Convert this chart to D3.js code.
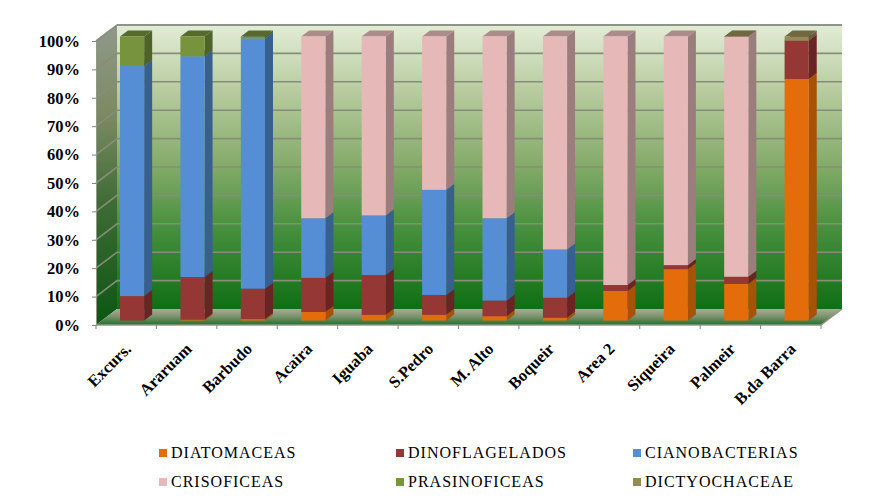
<!DOCTYPE html>
<html>
<head>
<meta charset="utf-8">
<script src="https://cdn.jsdelivr.net/npm/d3@7/dist/d3.min.js"></script>
<style>
html, body { margin: 0; padding: 0; background: #fff; }
svg { display: block; }
text { font-family: "Liberation Serif", serif; fill: #000; }
</style>
</head>
<body>
<script>
var categories = ['Excurs.', 'Araruam', 'Barbudo', 'Acaira', 'Iguaba', 'S.Pedro', 'M. Alto', 'Boqueir', 'Area 2', 'Siqueira', 'Palmeir', 'B.da Barra'];
var seriesNames = ['DIATOMACEAS', 'DINOFLAGELADOS', 'CIANOBACTERIAS', 'CRISOFICEAS', 'PRASINOFICEAS', 'DICTYOCHACEAE'];

var diatomaceas    = [0, 0.3, 0.5, 3, 2, 2, 1.5, 1, 10.4, 18.1, 12.9, 85];
var dinoflagelados = [8.6, 15, 10.7, 12, 14, 7, 5.5, 7, 2.1, 1.4, 2.5, 13.6];
var cianobacterias = [81, 77.7, 88.1, 21, 21, 37, 29, 17, 0, 0, 0, 0];
var crisoficeas    = [0, 0, 0, 64, 63, 54, 64, 75, 87.5, 80.5, 84.5, 0];
var prasinoficeas  = [10.4, 7, 0.7, 0, 0, 0, 0, 0, 0, 0, 0, 0];
var dictyochaceae  = [0, 0, 0, 0, 0, 0, 0, 0, 0, 0, 0.1, 1.4];

var frontColors = ['#e46c0a', '#953735', '#558ed5', '#e6b9b8', '#77933c', '#948a54'];
var sideColors  = ['#a65207', '#682524', '#37608f', '#9c7d7d', '#4f6228', '#665f3a'];
var topColors   = ['#b05808', '#742b2a', '#3f6ca3', '#ab8c8b', '#566b2b', '#6f6840'];

var width = 883, height = 498;
var left = 96, right = 821, bottom = 325, plotH = 284;
var depthX = 21, depthY = 16;      // shift from front plane to back wall
var barD0 = 0.28, barD1 = 0.66;    // bar front / back as a fraction of the depth

var svg = d3.select('body').append('svg')
    .attr('width', width)
    .attr('height', height);

var defs = svg.append('defs');

function gradient(id, stops) {
    var g = defs.append('linearGradient')
        .attr('id', id)
        .attr('x1', 0).attr('y1', 0).attr('x2', 0).attr('y2', 1);
    stops.forEach(function(s) {
        g.append('stop').attr('offset', s[0]).attr('stop-color', s[1]);
    });
}

gradient('wall', [[0, '#e3ecd6'], [0.25, '#b4c99b'], [0.5, '#83aa68'], [0.72, '#468f3c'], [1, '#0f6f14']]);
gradient('leftWall', [[0, '#90998a'], [0.3, '#7c8a62'], [0.6, '#3d6b34'], [1, '#0c5612']]);
gradient('floor', [[0, '#a9ab92'], [0.45, '#7f9470'], [1, '#21702a']]);

var x = d3.scaleBand()
    .domain(categories)
    .range([left, right])
    .paddingInner(0.6)
    .paddingOuter(0.3);

var y = d3.scaleLinear()
    .domain([0, 100])
    .range([bottom, bottom - plotH]);

var ticks = d3.range(0, 101, 10);

function pts(p) {
    return p.map(function(d) { return d.join(','); }).join(' ');
}

// walls and floor
svg.append('polygon')
    .attr('points', pts([[left + depthX, y(100) - depthY], [right + depthX, y(100) - depthY], [right + depthX, y(0) - depthY], [left + depthX, y(0) - depthY]]))
    .attr('fill', 'url(#wall)');
svg.append('polygon')
    .attr('points', pts([[left, y(100)], [left + depthX, y(100) - depthY], [left + depthX, y(0) - depthY], [left, y(0)]]))
    .attr('fill', 'url(#leftWall)');
svg.append('polygon')
    .attr('points', pts([[left, y(0)], [left + depthX, y(0) - depthY], [right + depthX, y(0) - depthY], [right, y(0)]]))
    .attr('fill', 'url(#floor)');

// gridlines, back wall + left wall
var grid = svg.append('g').attr('fill', 'none').attr('stroke', '#868e78').attr('stroke-width', 1.6);
grid.selectAll('path')
    .data(ticks)
    .enter()
    .append('path')
    .attr('d', function(d) {
        return 'M' + left + ',' + y(d) + 'L' + (left + depthX) + ',' + (y(d) - depthY) + 'H' + (right + depthX);
    })
    .attr('opacity', function(d) { return d === 0 ? 0 : 1; });
svg.append('path')
    .attr('d', 'M' + left + ',' + y(0) + 'H' + right + 'L' + (right + depthX) + ',' + (y(0) - depthY))
    .attr('fill', 'none')
    .attr('stroke', '#8f9a86')
    .attr('stroke-width', 1.5);
svg.append('path')
    .attr('d', 'M' + (left + depthX) + ',' + (y(100) - depthY) + 'H' + (right + depthX))
    .attr('fill', 'none')
    .attr('stroke', '#8d9488')
    .attr('stroke-width', 2);

// bars
var table = categories.map(function(c, i) {
    return {
        name: c,
        DIATOMACEAS: diatomaceas[i],
        DINOFLAGELADOS: dinoflagelados[i],
        CIANOBACTERIAS: cianobacterias[i],
        CRISOFICEAS: crisoficeas[i],
        PRASINOFICEAS: prasinoficeas[i],
        DICTYOCHACEAE: dictyochaceae[i]
    };
});
var stacked = d3.stack().keys(seriesNames)(table);

var fx = barD0 * depthX, fy = -barD0 * depthY;
var bx = barD1 * depthX, by = -barD1 * depthY;

categories.forEach(function(c, i) {
    var g = svg.append('g').attr('class', 'bar');
    stacked.forEach(function(s, k) {
        var lo = s[i][0], hi = s[i][1];
        if (hi <= lo) return;
        var x0 = x(c) + fx, x1 = x0 + x.bandwidth();
        var y0 = y(lo) + fy, y1 = y(hi) + fy;
        var dx = bx - fx, dy = by - fy;
        g.append('polygon')
            .attr('points', pts([[x1, y0], [x1 + dx, y0 + dy], [x1 + dx, y1 + dy], [x1, y1]]))
            .attr('fill', sideColors[k]);
        g.append('polygon')
            .attr('points', pts([[x0, y1], [x0 + dx, y1 + dy], [x1 + dx, y1 + dy], [x1, y1]]))
            .attr('fill', topColors[k]);
        g.append('rect')
            .attr('x', x0)
            .attr('y', y1)
            .attr('width', x.bandwidth())
            .attr('height', y0 - y1)
            .attr('fill', frontColors[k]);
    });
});

// axes
var yAxis = svg.append('g')
    .attr('transform', 'translate(' + left + ',0)')
    .call(d3.axisLeft(y).tickValues(ticks).tickFormat(function(d) { return d + '%'; }).tickSize(4).tickPadding(12));
yAxis.select('.domain').attr('stroke', '#8f9a86');
yAxis.selectAll('line').attr('stroke', '#7f8778');
yAxis.selectAll('text')
    .attr('font-size', 16.5)
    .attr('font-weight', 'bold')
    .style('font-family', '"Liberation Serif", serif')
    .attr('fill', '#000');

var xAxis = svg.append('g')
    .attr('transform', 'translate(0,' + bottom + ')')
    .call(d3.axisBottom(x).tickSize(0).tickPadding(0));
xAxis.select('.domain').remove();
xAxis.selectAll('text')
    .attr('font-size', 16.5)
    .attr('font-weight', 'bold')
    .style('font-family', '"Liberation Serif", serif')
    .attr('fill', '#000')
    .attr('text-anchor', 'end')
    .attr('dy', 0)
    .attr('y', 0)
    .attr('transform', 'translate(6,25) rotate(-45)');

svg.append('g')
    .selectAll('line')
    .data(d3.range(0, categories.length + 1))
    .enter()
    .append('line')
    .attr('x1', function(d) { return left + d * x.step(); })
    .attr('x2', function(d) { return left + d * x.step(); })
    .attr('y1', bottom)
    .attr('y2', bottom + 4)
    .attr('stroke', '#7f8778');

// legend
var legendX = [159, 396, 633], legendY = [458, 487];
var legend = svg.append('g')
    .selectAll('g')
    .data(seriesNames)
    .enter()
    .append('g')
    .attr('transform', function(d, i) {
        return 'translate(' + legendX[i % 3] + ',' + legendY[Math.floor(i / 3)] + ')';
    });
legend.append('rect')
    .attr('x', 0).attr('y', -9)
    .attr('width', 8).attr('height', 8)
    .attr('fill', function(d, i) { return frontColors[i]; });
legend.append('text')
    .attr('x', 12)
    .attr('font-size', 16)
    .style('letter-spacing', '1px')
    .text(function(d) { return d; });
</script>
</body>
</html>
